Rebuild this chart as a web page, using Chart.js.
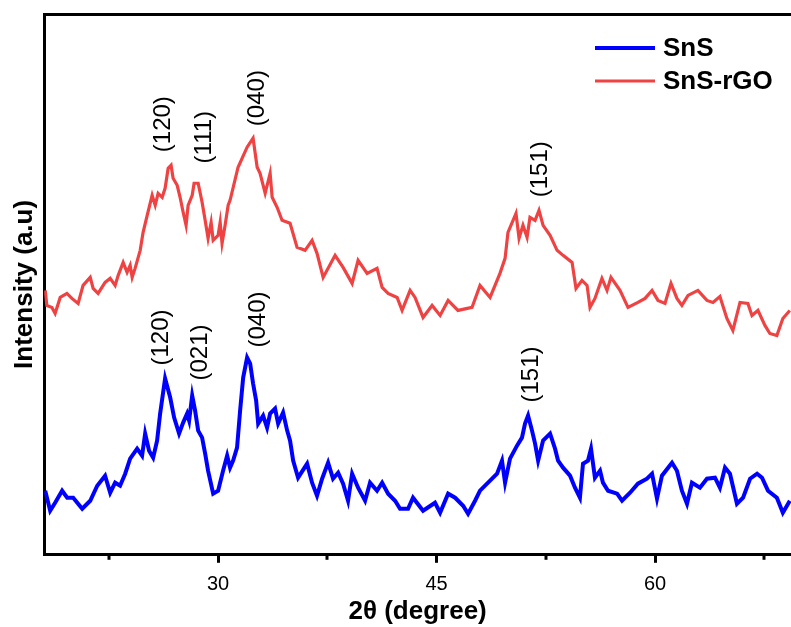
<!DOCTYPE html>
<html>
<head>
<meta charset="utf-8">
<script src="https://cdn.jsdelivr.net/npm/chart.js@4.4.0/dist/chart.umd.min.js"></script>
<style>
  body { margin: 0; background: #fff; }
  #wrap { width: 791px; height: 627px; }
</style>
</head>
<body>
<div id="wrap"><canvas id="xrd" width="791" height="627"></canvas></div>
<script>
// 2theta (degree) and intensity (a.u.)
var rgoX = [18.13,18.24,18.59,18.81,19.16,19.62,19.96,20.39,20.73,21.22,21.42,21.76,22.24,22.59,22.93,23.14,23.48,23.75,23.96,24.10,
  24.30,24.65,24.85,25.13,25.47,25.68,25.88,26.16,26.36,26.57,26.77,26.91,27.19,27.39,27.60,27.80,27.94,28.22,28.35,28.63,
  28.90,29.11,29.31,29.52,29.66,30.00,30.14,30.27,30.48,30.69,30.82,31.37,31.99,32.40,32.68,32.88,33.23,33.57,33.71,34.05,
  34.39,34.94,35.42,35.97,36.45,36.79,37.21,38.03,38.58,39.20,39.61,40.23,40.91,41.26,41.67,42.29,42.63,43.18,43.52,44.07,
  44.69,45.24,45.79,46.47,47.43,47.98,48.67,49.35,49.70,49.90,50.45,50.66,50.93,51.21,51.41,51.76,52.03,52.31,52.79,53.27,
  53.68,54.30,54.57,54.98,55.33,55.53,55.87,56.35,56.70,56.97,57.59,58.14,58.82,59.31,59.79,60.20,60.68,61.09,61.50,61.84,
  62.26,62.94,63.56,63.97,64.45,64.93,65.34,65.83,66.37,66.65,67.06,67.54,67.88,68.36,68.77,69.25];
var rgoY = [264,249,247,241,257,261,256,251,269,277,266,261,272,276,269,279,292,282,289,277,
  286,304,322,339,359,349,361,357,366,386,389,376,369,357,342,329,349,359,371,371,
  352,334,316,332,314,319,332,311,329,349,354,387,407,416,387,381,361,381,357,347,
  334,331,307,304,314,301,277,299,287,271,294,281,286,267,261,257,244,264,257,237,
  249,239,254,244,247,269,257,281,296,322,341,316,329,317,337,334,344,329,319,304,
  299,292,266,274,269,247,256,276,264,277,264,247,252,256,264,254,251,271,256,249,
  259,264,254,252,258,236,224,252,251,239,244,229,221,219,236,244];

var snsX = [18.13,18.47,18.81,19.29,19.64,20.05,20.67,21.22,21.70,22.24,22.59,22.93,23.27,23.62,23.96,24.44,24.78,24.99,25.26,25.54,
  25.81,26.02,26.36,26.71,26.98,27.32,27.60,27.87,28.01,28.22,28.42,28.63,28.90,29.11,29.31,29.66,30.00,30.34,30.62,30.82,
  31.03,31.30,31.51,31.72,31.99,32.20,32.40,32.61,32.75,33.09,33.36,33.57,33.91,34.12,34.46,34.74,34.94,35.15,35.49,36.11,
  36.45,36.79,37.14,37.55,37.89,38.24,38.58,38.92,39.20,39.61,40.09,40.43,40.91,41.26,41.67,42.15,42.49,42.70,43.04,43.38,
  44.07,44.89,45.24,45.79,46.27,46.82,47.16,47.64,47.98,48.67,49.15,49.49,49.70,50.04,50.52,50.86,51.07,51.28,51.55,51.76,
  51.97,52.31,52.79,53.13,53.34,53.68,54.16,54.50,54.84,55.05,55.39,55.60,55.87,56.22,56.42,56.77,57.39,57.73,58.28,58.82,
  59.44,59.79,60.13,60.47,61.16,61.50,61.84,62.19,62.53,63.08,63.56,64.11,64.45,64.80,65.14,65.62,66.04,66.52,67.00,67.34,
  67.75,68.36,68.77,69.25];
var snsY = [64,44,52,64,57,57,46,54,69,79,62,72,69,81,96,106,99,121,104,97,
  114,141,176,157,137,121,132,141,134,159,144,124,117,101,84,61,64,84,99,87,
  94,107,144,177,197,191,171,154,131,139,127,141,146,131,142,124,114,94,77,91,
  72,59,76,92,76,82,71,54,81,67,54,72,64,72,61,54,46,46,46,57,
  44,52,42,61,57,49,41,54,64,74,81,94,72,96,109,117,131,139,124,111,
  94,114,121,106,94,87,79,67,57,91,94,106,77,84,72,64,61,54,62,71,
  76,81,56,79,92,84,64,51,72,67,76,77,67,87,81,51,57,76,81,77,
  64,57,42,54];

var xTicks = [22.5, 30, 37.5, 45, 52.5, 60, 67.5];

// peak indexing labels: text, 2theta, intensity
var peakText = ['(120)','(111)','(040)','(151)','(120)','(021)','(040)','(151)'];
var peakX    = [26.26, 29.04, 32.71, 52.10, 26.09, 28.76, 32.78, 51.48];
var peakY    = [430, 417, 456, 385, 217, 202, 235, 180];

var FONT = "'Liberation Sans', Arial, sans-serif";

function pts(xs, ys){
  return xs.map(function(v, i){ return {x: v, y: ys[i]}; });
}

var peakLabels = {
  id: 'peakLabels',
  afterDatasetsDraw: function(chart){
    var ctx = chart.ctx, sx = chart.scales.x, sy = chart.scales.y;
    ctx.save();
    ctx.fillStyle = '#000';
    ctx.font = '24px ' + FONT;
    ctx.textAlign = 'center';
    ctx.textBaseline = 'middle';
    for (var i = 0; i < peakText.length; i++) {
      ctx.save();
      ctx.translate(sx.getPixelForValue(peakX[i]), sy.getPixelForValue(peakY[i]));
      ctx.rotate(-Math.PI / 2);
      ctx.fillText(peakText[i], 0, 0);
      ctx.restore();
    }
    ctx.restore();
  }
};

// short minor ticks + line legend in the upper right
var extras = {
  id: 'extras',
  afterDraw: function(chart){
    var ctx = chart.ctx, sx = chart.scales.x, a = chart.chartArea;
    ctx.save();
    ctx.strokeStyle = '#000';
    ctx.lineWidth = 3;
    xTicks.forEach(function(v){
      if (v % 15 === 0) return;
      var px = Math.round(sx.getPixelForValue(v));
      ctx.beginPath();
      ctx.moveTo(px, a.bottom);
      ctx.lineTo(px, a.bottom + 5);
      ctx.stroke();
    });
    var lx = a.right - 196, ly = a.top + 34;
    chart.data.datasets.forEach(function(ds, i){
      var y = ly + i * 33;
      ctx.strokeStyle = ds.borderColor;
      ctx.lineWidth = ds.borderWidth;
      ctx.beginPath();
      ctx.moveTo(lx, y);
      ctx.lineTo(lx + 60, y);
      ctx.stroke();
      ctx.fillStyle = '#000';
      ctx.font = 'bold 26px ' + FONT;
      ctx.textAlign = 'left';
      ctx.textBaseline = 'middle';
      ctx.fillText(ds.label, lx + 68, y + 1);
    });
    ctx.restore();
  }
};

var chart = new Chart(document.getElementById('xrd'), {
  type: 'line',
  data: {
    datasets: [
      { label: 'SnS', data: pts(snsX, snsY), borderColor: '#0000ff', backgroundColor: '#0000ff', borderWidth: 4 },
      { label: 'SnS-rGO', data: pts(rgoX, rgoY), borderColor: '#ef4343', backgroundColor: '#ef4343', borderWidth: 3.2 }
    ]
  },
  options: {
    responsive: false,
    animation: false,
    layout: { padding: { left: 5, top: 14, right: 0, bottom: 0 } },
    elements: { point: { radius: 0 }, line: { tension: 0 } },
    plugins: { legend: { display: false }, tooltip: { enabled: false } },
    scales: {
      x: {
        type: 'linear', min: 18.06, max: 69.33,
        afterBuildTicks: function(scale){ scale.ticks = xTicks.map(function(v){ return {value: v}; }); },
        ticks: {
          color: '#000', padding: 10, maxRotation: 0, autoSkip: false,
          font: { family: FONT, size: 20 },
          callback: function(v){ return v % 15 === 0 ? v : ''; }
        },
        grid: {
          display: true, drawOnChartArea: false, drawTicks: true, tickLength: 8, tickWidth: 3,
          tickColor: function(c){ return (c.tick && c.tick.value % 15 === 0) ? '#000' : 'rgba(0,0,0,0)'; }
        },
        border: { display: true, width: 3, color: '#000' },
        title: { display: true, text: '2\u03b8 (degree)', color: '#000', padding: { top: -11, bottom: 0 },
          font: { family: FONT, size: 26, weight: 'bold' } }
      },
      xTop: {
        type: 'linear', position: 'top', display: true, min: 0, max: 1,
        ticks: { display: false },
        grid: { display: false, drawTicks: false },
        border: { display: true, width: 3, color: '#000' }
      },
      y: {
        type: 'linear', min: 0, max: 540,
        ticks: { display: false },
        grid: { display: false, drawTicks: false },
        border: { display: true, width: 3, color: '#000' },
        title: { display: true, text: 'Intensity (a.u)', color: '#000',
          font: { family: FONT, size: 26, weight: 'bold' } }
      }
    }
  },
  plugins: [peakLabels, extras]
});
</script>
</body>
</html>
